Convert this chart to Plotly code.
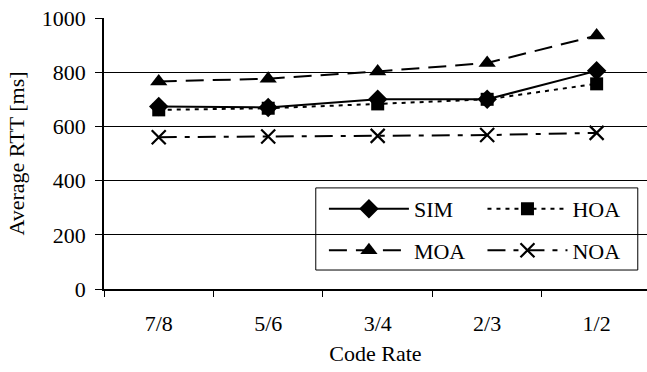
import plotly.graph_objects as go

categories = ["7/8", "5/6", "3/4", "2/3", "1/2"]
sim = [673, 670, 700, 700, 805]
hoa = [661, 667, 683, 700, 757]
moa = [766, 776, 803, 834, 935]
noa = [560, 563, 565, 568, 576]
y_ticks = [0, 200, 400, 600, 800, 1000]

FONT = "Liberation Serif"
FS = 22

fig = go.Figure()

def add(name, y, dash, symbol, size, legend, group, mline=0):
    fig.add_trace(go.Scatter(
        x=categories, y=y, name=name, mode="lines+markers",
        line=dict(color="black", width=2, dash=dash),
        marker=dict(symbol=symbol, size=size, color="black",
                    line=dict(color="black", width=mline)),
        legend=legend, legendgroup=group, cliponaxis=False,
    ))

add("SIM", sim, "solid", "diamond", 15, "legend", "a")
add("HOA", hoa, "4px,5px", "square", 13, "legend2", "c")
add("MOA", moa, "18px,9px", "triangle-up", 15, "legend", "b")
add("NOA", noa, "18px,8px,5px,8px", "x-thin", 14, "legend2", "d", mline=2.2)

box_x0, box_x1 = 0.39, 0.983
box_y0, box_y1 = 0.07, 0.373

legend_common = dict(
    bgcolor="rgba(0,0,0,0)", borderwidth=0,
    font=dict(family=FONT, size=FS, color="black"),
    tracegroupgap=10, itemwidth=80,
    xanchor="left", yanchor="top", y=box_y1,
)

fig.update_layout(
    width=647, height=372,
    margin=dict(l=104, r=0, t=18, b=83),
    paper_bgcolor="white", plot_bgcolor="white",
    font=dict(family=FONT, size=FS, color="black"),
    showlegend=True,
    legend=dict(x=0.405, **legend_common),
    legend2=dict(x=0.697, **legend_common),
    xaxis=dict(
        type="category", range=[-0.5, 4.46],
        showline=True, linecolor="black", linewidth=1.5,
        ticks="outside", tickson="boundaries", ticklen=6, tickcolor="black",
        showgrid=False, zeroline=False,
        tickfont=dict(family=FONT, size=FS),
        ticklabelstandoff=14,
        title=dict(text="Code Rate", font=dict(family=FONT, size=FS), standoff=10),
    ),
    yaxis=dict(
        range=[0, 1000], tickvals=y_ticks,
        showline=True, linecolor="black", linewidth=1.5,
        ticks="outside", ticklen=7, tickcolor="black",
        showgrid=True, gridcolor="black", gridwidth=1,
        zeroline=False,
        tickfont=dict(family=FONT, size=FS),
        ticklabelstandoff=5,
        title=dict(text="Average RTT [ms]", font=dict(family=FONT, size=FS), standoff=11),
    ),
    shapes=[dict(type="rect", xref="paper", yref="paper",
                 x0=box_x0, x1=box_x1, y0=box_y0, y1=box_y1,
                 line=dict(color="black", width=1), fillcolor="white", layer="below")],
)

fig.write_html("out.html")
